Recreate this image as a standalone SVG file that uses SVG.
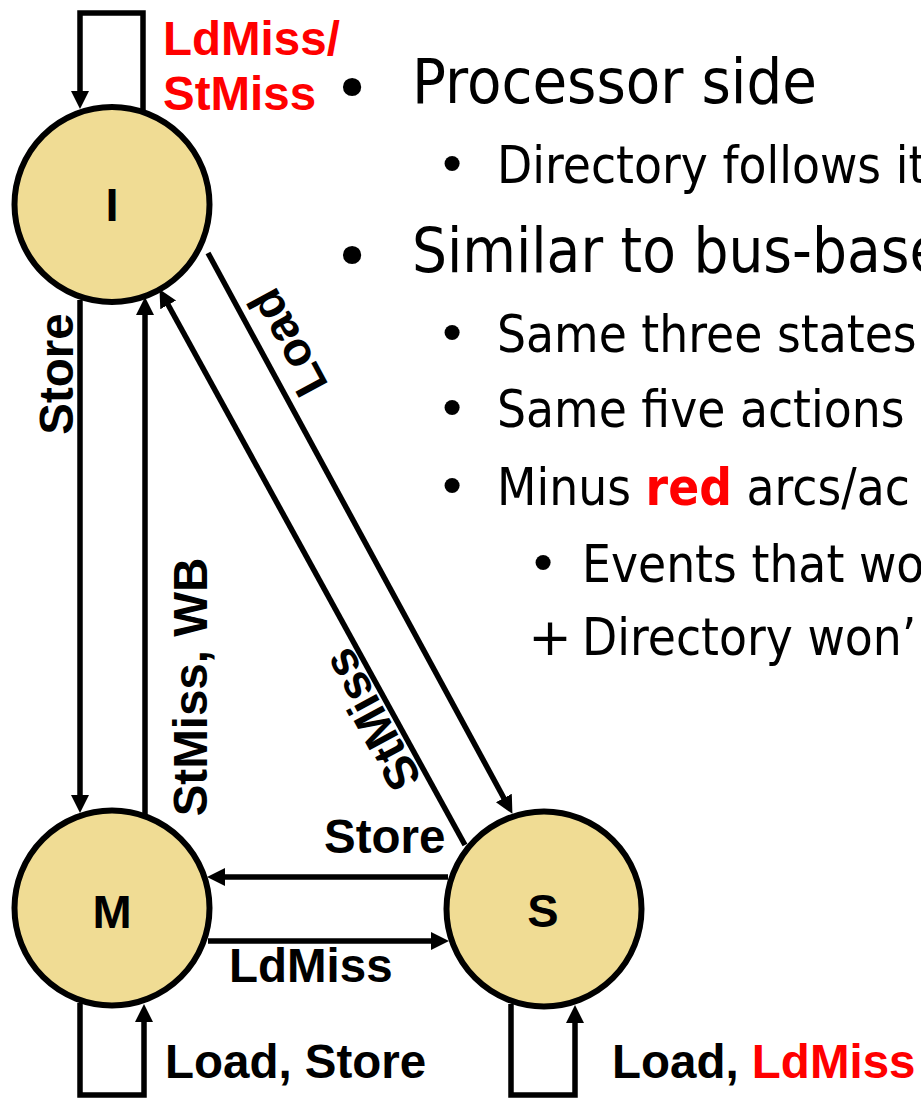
<svg xmlns="http://www.w3.org/2000/svg" width="921" height="1101" viewBox="0 0 921 1101">
<style>
.node circle{fill:#F0DC94;stroke:#000;stroke-width:6}
.nl{font-family:"Liberation Sans",Arial,sans-serif;font-weight:bold;font-size:47px;fill:#000}
.lbl{font-family:"Liberation Sans",Arial,sans-serif;font-weight:bold;font-size:47.5px;fill:#000}
.red{fill:#FF0000}
.conn path{fill:none;stroke:#000;stroke-width:5.5;marker-end:url(#ah)}
.t1{font-family:"DejaVu Sans",Verdana,sans-serif;font-size:63px;fill:#000}
.t2{font-family:"DejaVu Sans",Verdana,sans-serif;font-size:52px;fill:#000}
</style>
<defs>
<marker id="ah" markerUnits="userSpaceOnUse" markerWidth="19" markerHeight="19" refX="7" refY="9" orient="auto">
<path d="M0,0 L18,9 L0,18 z" fill="#000"/>
</marker>
</defs>
<rect width="921" height="1101" fill="#fff"/>

<g id="connectors" class="conn">
<path d="M143,110 V13 H80 V98"/>
<path d="M80,300 V802"/>
<path d="M145,815 V308"/>
<path d="M208,253 L507.2,804.2"/>
<path d="M465,845 L164.8,298.8"/>
<path d="M448,877 H218"/>
<path d="M208,941 H438"/>
<path d="M80,1003 V1095 H144 V1015"/>
<path d="M511,1004 V1095 H575 V1016"/>
</g>

<g id="edge-labels">
<text class="lbl red" x="163" y="55">LdMiss/</text>
<text class="lbl red" x="163" y="110">StMiss</text>
<text class="lbl" transform="translate(73 374) rotate(-90)" text-anchor="middle">Store</text>
<text class="lbl" transform="translate(207 687) rotate(-90)" text-anchor="middle">StMiss, WB</text>
<text class="lbl" transform="translate(302 335) rotate(241.6)" text-anchor="middle">Load</text>
<text class="lbl" transform="translate(386 712) rotate(241.6)" text-anchor="middle">StMiss</text>
<text class="lbl" x="324" y="853">Store</text>
<text class="lbl" x="229" y="982">LdMiss</text>
<text class="lbl" x="165" y="1078">Load, Store</text>
<text class="lbl" x="612" y="1078">Load, <tspan class="red">LdMiss</tspan></text>
</g>

<g id="node-I" class="node">
<circle cx="112" cy="204.5" r="97.5"/>
<text class="nl" x="112" y="221" text-anchor="middle">I</text>
</g>
<g id="node-M" class="node">
<circle cx="112" cy="908" r="97.5"/>
<text class="nl" x="112" y="928" text-anchor="middle">M</text>
</g>
<g id="node-S" class="node">
<circle cx="544" cy="909" r="97.5"/>
<text class="nl" x="543" y="927" text-anchor="middle">S</text>
</g>

<g id="bullets-text">
<text class="t1" x="352" y="110" text-anchor="middle">•</text>
<text class="t1" transform="translate(412 103) scale(0.895 1)">Processor side</text>
<text class="t2" x="452" y="183" text-anchor="middle">•</text>
<text class="t2" transform="translate(497 183) scale(0.88 1)">Directory follows it</text>
<text class="t1" x="352" y="278" text-anchor="middle">•</text>
<text class="t1" transform="translate(412 272) scale(0.875 1)">Similar to bus-base</text>
<text class="t2" x="452" y="352" text-anchor="middle">•</text>
<text class="t2" transform="translate(497 352) scale(0.88 1)">Same three states</text>
<text class="t2" x="452" y="427" text-anchor="middle">•</text>
<text class="t2" transform="translate(497 427) scale(0.88 1)">Same five actions</text>
<text class="t2" x="452" y="505" text-anchor="middle">•</text>
<text class="t2" transform="translate(497 505) scale(0.88 1)">Minus <tspan class="red" font-weight="bold">red</tspan> arcs/ac</text>
<text class="t2" x="543" y="582" text-anchor="middle">•</text>
<text class="t2" transform="translate(582 582) scale(0.88 1)">Events that wo</text>
<text class="t2" x="550" y="655" text-anchor="middle">+</text>
<text class="t2" transform="translate(582 655) scale(0.88 1)">Directory won’</text>
</g>
</svg>
